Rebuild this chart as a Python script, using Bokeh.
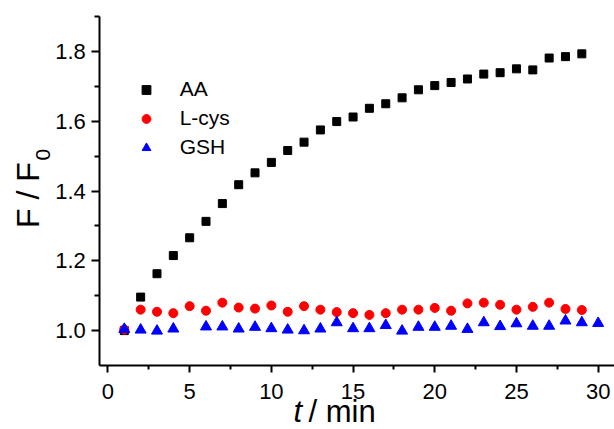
import math
from bokeh.plotting import figure
from bokeh.models import Range1d, Label, Legend, LegendItem, FixedTicker, CustomJSTickFormatter
from bokeh.embed import file_html
from bokeh.resources import INLINE

# ---- data ----
t_aa = list(range(1, 30))
aa = [1.000, 1.096, 1.163, 1.215, 1.266, 1.313, 1.364, 1.418, 1.452, 1.482,
      1.516, 1.540, 1.575, 1.599, 1.612, 1.637, 1.650, 1.667, 1.690, 1.702,
      1.711, 1.721, 1.735, 1.739, 1.750, 1.747, 1.781, 1.785, 1.793]

t_lcys = list(range(1, 30))
lcys = [1.003, 1.060, 1.054, 1.050, 1.070, 1.057, 1.080, 1.066, 1.063, 1.072,
        1.054, 1.070, 1.060, 1.053, 1.050, 1.045, 1.050, 1.060, 1.060, 1.065,
        1.057, 1.078, 1.080, 1.074, 1.060, 1.068, 1.080, 1.062, 1.059]

t_gsh = [1, 2, 3, 4, 6, 7, 8, 9, 10, 11, 12, 13, 14, 15, 16, 17, 18, 19, 20,
         21, 22, 23, 24, 25, 26, 27, 28, 29, 30]
gsh = [1.004, 1.002, 0.999, 1.005, 1.011, 1.011, 1.005, 1.010, 1.006, 1.002,
       1.000, 1.005, 1.023, 1.006, 1.006, 1.015, 0.999, 1.010, 1.010, 1.013,
       1.004, 1.023, 1.012, 1.020, 1.013, 1.013, 1.028, 1.023, 1.021]

x_ticks = [0, 5, 10, 15, 20, 25, 30]
x_minor = [2.5, 7.5, 12.5, 17.5, 22.5, 27.5]
y_ticks = [1.0, 1.2, 1.4, 1.6, 1.8]
y_minor = [1.1, 1.3, 1.5, 1.7, 1.9]
x_lim = (-0.5, 31.0)
y_lim = (0.9, 1.9)

FONT = "Liberation Sans"
W, H = 614, 429
AX_L, AX_B, AX_T = 99.3, 365.0, 16.0   # axis-box edges in canvas pixels
XS = (W - AX_L) / (x_lim[1] - x_lim[0])    # px per x unit
YS = (AX_B - AX_T) / (y_lim[1] - y_lim[0])  # px per y unit

def sx_to_x(sx):
    return x_lim[0] + (sx - AX_L) / XS

def sy_to_y(sy):
    return y_lim[0] + (AX_B - sy) / YS

p = figure(width=W, height=H, output_backend="svg", toolbar_location=None,
           x_range=Range1d(sx_to_x(0), sx_to_x(W)),
           y_range=Range1d(sy_to_y(H), sy_to_y(0)),
           min_border=0)
p.outline_line_color = None
p.xgrid.visible = False
p.ygrid.visible = False
p.background_fill_color = "white"
p.border_fill_color = "white"

r_aa = p.scatter(t_aa, aa, marker="square", size=8, color="black")
r_lc = p.scatter(t_lcys, lcys, marker="circle", size=9, color="red")
r_gs = p.scatter(t_gsh, gsh, marker="triangle", size=11, color="blue")

for ax in (p.xaxis[0], p.yaxis[0]):
    ax.axis_line_width = 2
    ax.major_tick_line_width = 2
    ax.minor_tick_line_width = 2
    ax.major_tick_in = 0
    ax.minor_tick_in = 0
    ax.major_label_text_font = FONT
    ax.major_label_text_font_size = "22px"
    ax.major_label_text_color = "black"
    ax.axis_line_color = "black"
    ax.major_tick_line_color = "black"
    ax.minor_tick_line_color = "black"

p.xaxis.fixed_location = y_lim[0]
p.xaxis.bounds = x_lim
p.yaxis.fixed_location = x_lim[0]
p.yaxis.bounds = y_lim
p.xaxis.ticker = FixedTicker(ticks=x_ticks, minor_ticks=x_minor)
p.yaxis.ticker = FixedTicker(ticks=y_ticks, minor_ticks=y_minor)
p.xaxis.major_tick_out = 7
p.xaxis.minor_tick_out = 4
p.yaxis.major_tick_out = 8
p.yaxis.minor_tick_out = 5
p.xaxis.major_label_standoff = 11
p.yaxis.major_label_standoff = 6
p.yaxis.formatter = CustomJSTickFormatter(code="return tick.toFixed(1);")

def lab(sx, sy, text, size, **kw):
    return Label(x=sx_to_x(sx), y=sy_to_y(sy), text=text,
                 text_font=FONT, text_font_size=size, text_align="left",
                 text_baseline="middle", text_color="black", **kw)

p.add_layout(lab(27, 227.5, "F / F", "32px", angle=math.pi / 2))
p.add_layout(lab(42.5, 160, "0", "21px", angle=math.pi / 2))
p.add_layout(lab(293, 411, "t", "31px", text_font_style="italic"))
p.add_layout(lab(308, 411, "/ min", "31px"))

legend = Legend(items=[LegendItem(label="AA", renderers=[r_aa]),
                       LegendItem(label="L-cys", renderers=[r_lc]),
                       LegendItem(label="GSH", renderers=[r_gs])],
                location=(134.7, H - 159.8), glyph_width=22, glyph_height=25,
                label_height=25, spacing=4, label_standoff=23, padding=0, margin=0,
                border_line_color=None, background_fill_alpha=0,
                label_text_font=FONT, label_text_font_size="21px",
                label_text_color="black")
p.add_layout(legend)

open("out.html", "w").write(file_html(p, INLINE))
